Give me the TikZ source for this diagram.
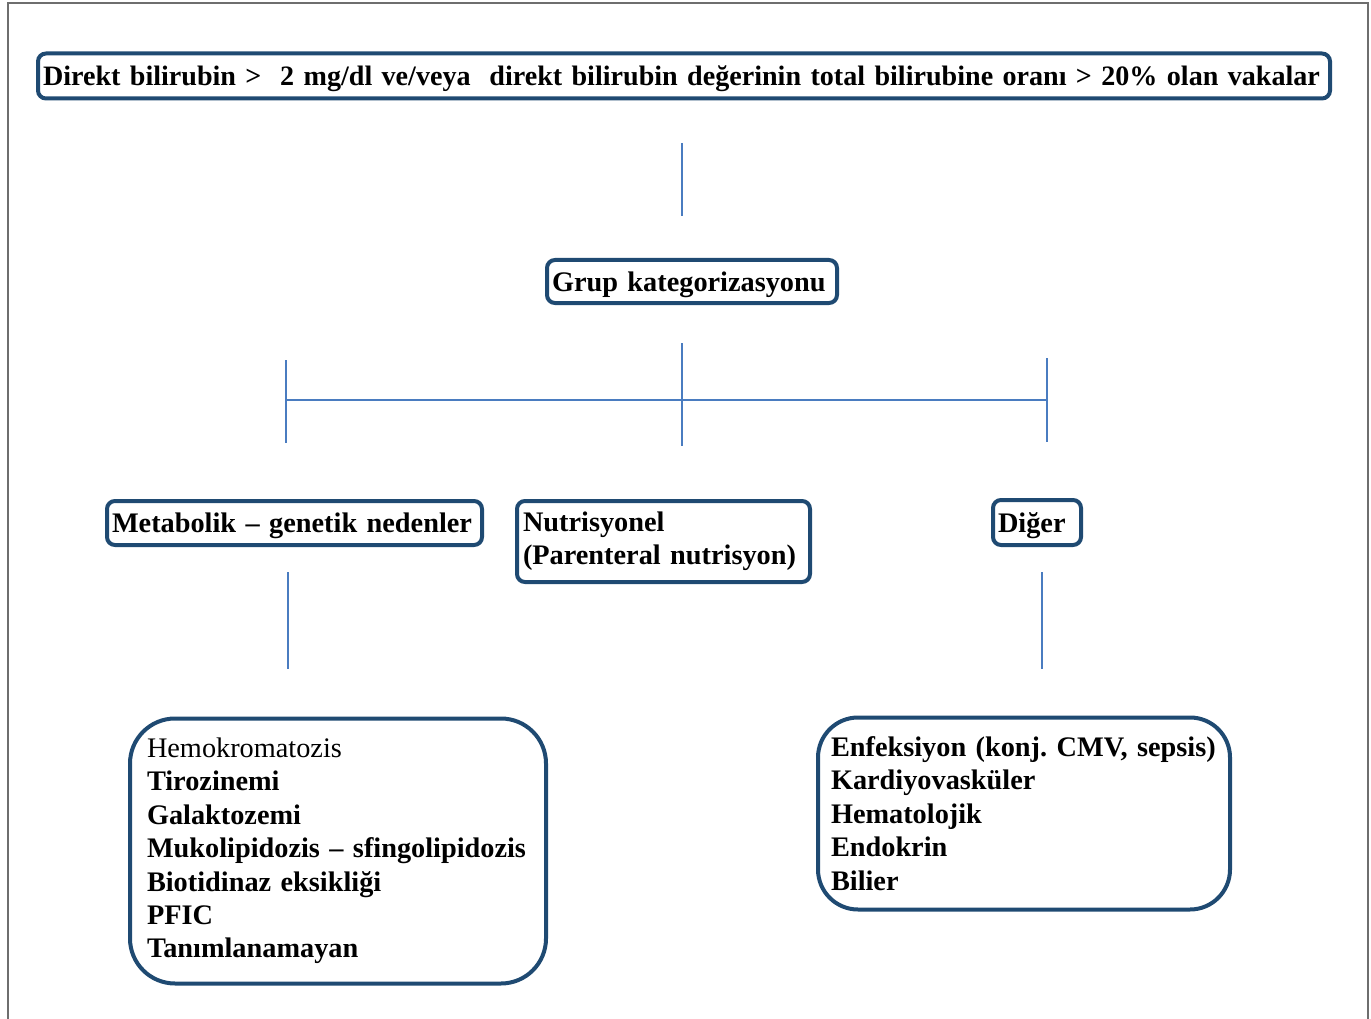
\documentclass[tikz,border=0pt]{standalone}
\usepackage{fontspec}
\setmainfont{Liberation Serif}
\definecolor{boxc}{HTML}{1F4A72}
\definecolor{linec}{HTML}{4A7CC0}
\definecolor{framec}{HTML}{6E6E6E}
\tikzset{
  box/.style={draw=boxc, line width=4pt, rounded corners=8pt, inner xsep=5pt, inner ysep=0pt, align=left, font=\fontsize{28.3}{33.4}\selectfont\bfseries\frenchspacing},
  onebox/.style={box, text depth=0pt},
  conn/.style={draw=linec, line width=1.8pt},
}
\begin{document}
\begin{tikzpicture}[x=1pt,y=-1pt]
\useasboundingbox (0,0) rectangle (1371,1019);
\draw[framec, line width=1.5pt] (8,1019) -- (8,3) -- (1368,3) -- (1368,1019);
\node[onebox, minimum width=1292pt, minimum height=45pt, text width=1282pt, font=\fontsize{28.1}{33.4}\selectfont\bfseries\frenchspacing] (top) at (684,76) {\mbox{Direkt bilirubin >\ \ 2 mg/dl ve/veya\ \ direkt bilirubin değerinin total bilirubine oranı > 20\% olan vakalar}};
\node[onebox, minimum width=290pt, minimum height=43pt, text width=280pt] (grup) at (692,281.5) {Grup kategorizasyonu};
\node[onebox, minimum width=375pt, minimum height=44pt, text width=365pt] (meta) at (294.5,523) {Metabolik – genetik nedenler};
\node[box, minimum width=293pt, minimum height=81pt, text width=281pt] (nutr) at (663.5,541.5) {Nutrisyonel\\(Parenteral nutrisyon)};
\node[onebox, minimum width=88pt, minimum height=45pt, text width=78pt] (diger) at (1037,522.5) {Diğer};
\node[box, rounded corners=45pt, inner xsep=17pt, minimum width=416pt, minimum height=265pt, text width=382pt] (lb) at (338,851) {{\mdseries Hemokromatozis}\\Tirozinemi\\Galaktozemi\\Mukolipidozis – sfingolipidozis\\Biotidinaz eksikliği\\PFIC\\Tanımlanamayan};
\node[box, rounded corners=40pt, inner xsep=13pt, minimum width=412pt, minimum height=192pt, text width=386pt] (rb) at (1024,813.5) {Enfeksiyon (konj. CMV, sepsis)\\Kardiyovasküler\\Hematolojik\\Endokrin\\Bilier};
\coordinate (a1) at (682,143); \coordinate (a2) at (682,216);
\coordinate (b1) at (682,343); \coordinate (b2) at (682,446);
\coordinate (h1) at (286,400); \coordinate (h2) at (1047,400);
\coordinate (l1) at (286,360); \coordinate (l2) at (286,443);
\coordinate (r1) at (1047,358); \coordinate (r2) at (1047,442);
\coordinate (m1) at (288,572); \coordinate (m2) at (288,669);
\coordinate (d1) at (1042,572); \coordinate (d2) at (1042,669);
\draw[conn] (a1) -- (a2);
\draw[conn] (b1) -- (b2);
\draw[conn] (h1) -- (h2);
\draw[conn] (l1) -- (l2);
\draw[conn] (r1) -- (r2);
\draw[conn] (m1) -- (m2);
\draw[conn] (d1) -- (d2);
\end{tikzpicture}
\end{document}
